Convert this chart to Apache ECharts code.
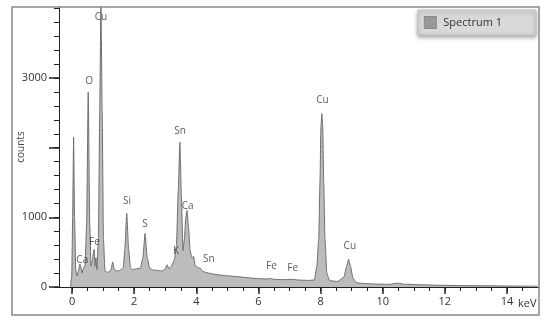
<!DOCTYPE html>
<html>
<head>
<meta charset="utf-8">
<script src="https://cdn.jsdelivr.net/npm/echarts@6/dist/echarts.min.js"></script>
<style>
  html, body { margin: 0; padding: 0; background: #fff; }
  #chart { width: 550px; height: 325px; }
</style>
</head>
<body>
<div id="chart"></div>
<script>
/* ---------- data ---------- */
const energy = [
  -0.05, -0.01, 0.02, 0.05, 0.08, 0.12, 0.16, 0.2, 0.25, 0.29, 0.32, 0.36, 0.42,
  0.47, 0.52, 0.57, 0.61, 0.65, 0.68, 0.71, 0.74, 0.77, 0.8, 0.85, 0.89, 0.93, 0.97,
  1.01, 1.06, 1.15, 1.25, 1.31, 1.36, 1.45, 1.55, 1.65, 1.7, 1.76, 1.82, 1.88, 1.95,
  2.05, 2.2, 2.28, 2.35, 2.42, 2.5, 2.6, 2.7, 2.8, 2.9, 2.98, 3.06, 3.12, 3.2, 3.3,
  3.36, 3.42, 3.47, 3.52, 3.57, 3.62, 3.66, 3.7, 3.75, 3.8, 3.86, 3.91, 3.96, 4.03,
  4.13, 4.2, 4.3, 4.4, 4.5, 4.7, 5.0, 5.3, 5.6, 6.0, 6.3, 6.4, 6.5, 6.8, 7.06, 7.3,
  7.6, 7.8, 7.88, 7.94, 7.98, 8.01, 8.04, 8.07, 8.1, 8.14, 8.2, 8.28, 8.4, 8.55,
  8.75, 8.84, 8.9, 8.96, 9.04, 9.15, 9.4, 9.8, 10.2, 10.5, 10.7, 11.2, 11.8, 12.5,
  13.2, 14.0, 14.6, 15.0
];
const counts = [
  0, 150, 1000, 2150, 1000, 250, 160, 220, 330, 280, 200, 260, 320,
  900, 2800, 900, 300, 380, 470, 540, 300, 420, 250, 700, 2500, 4100, 2500,
  700, 230, 210, 240, 360, 250, 230, 240, 280, 550, 1055, 550, 280, 250,
  260, 270, 420, 770, 420, 265, 245, 240, 235, 230, 250, 320, 260, 300, 400,
  600, 1400, 2080, 1300, 520, 700, 1000, 1100, 850, 520, 420, 440, 320, 280,
  270, 230, 210, 200, 190, 175, 160, 150, 135, 120, 115, 125, 110, 105, 110, 100,
  95, 100, 300, 700, 1500, 2300, 2490, 2300, 1500, 700, 200, 100, 85, 80,
  140, 300, 400, 300, 130, 60, 50, 42, 38, 55, 40, 32, 25, 20,
  18, 15, 12, 12
];

// peak annotations: element, label position (keV, counts)
const peakNames = ["Cu", "O", "Sn", "Si", "S", "Ca", "K", "Sn", "Fe", "Ca", "Fe", "Fe", "Cu", "Cu"];
const peakKeV   = [0.93, 0.55, 3.48, 1.77, 2.35, 3.72, 3.35, 4.4, 0.72, 0.33, 6.42, 7.1, 8.06, 8.94];
const peakY     = [3870, 2960, 2240, 1230, 900, 1160, 520, 400, 650, 390, 300, 270, 2680, 590];

const xMinorTicks = [];
for (let v = 0; v <= 14.5; v += 0.5) xMinorTicks.push(v);
const xMajorTicks = [0, 2, 4, 6, 8, 10, 12, 14];
const yMinorTicks = [];
for (let v = 0; v <= 4000; v += 200) yMinorTicks.push(v);
const yMajorTicks = [0, 1000, 2000, 3000];
const yLabelVals  = [0, 1000, 3000];

/* ---------- chart ---------- */
const chart = echarts.init(document.getElementById("chart"), null, { renderer: "canvas" });
const FONT = "Open Sans";
const X_MIN = -0.42, X_MAX = 15.03, Y_MAX = 4020;
const plain = (v) => String(v);

const xBase = {
  min: X_MIN, max: X_MAX, type: "value", position: "bottom",
  splitLine: { show: false },
  axisLine: { onZero: false, lineStyle: { color: "#222", width: 1 } },
};
const yBase = {
  type: "value", min: 0, max: Y_MAX, position: "left",
  splitLine: { show: false },
  axisLine: { show: true, onZero: false, lineStyle: { color: "#222" } },
};

chart.setOption({
  animation: false,
  grid: { left: 59, right: 11, top: 7, bottom: 38 },
  legend: {
    right: 14, top: 10,
    padding: [6, 34, 6, 6],
    itemWidth: 12, itemHeight: 12, itemGap: 4,
    icon: "rect",
    backgroundColor: "#d9d9d9",
    borderColor: "#c4c4c4", borderWidth: 1,
    shadowBlur: 4, shadowColor: "rgba(0,0,0,0.35)", shadowOffsetX: 0, shadowOffsetY: 2,
    textStyle: { fontFamily: FONT, fontSize: 11, color: "#333", padding: [0, 0, 0, 2] },
    data: [{ name: "Spectrum 1", itemStyle: { color: "#999", borderColor: "#888", borderWidth: 1 } }],
  },
  xAxis: [
    Object.assign({}, xBase, {
      axisTick: { length: 4, lineStyle: { color: "#222" }, customValues: xMinorTicks },
      axisLabel: { show: false },
    }),
    Object.assign({}, xBase, {
      axisTick: { length: 7, lineStyle: { color: "#222", width: 1.5 }, customValues: xMajorTicks },
      axisLabel: { customValues: xMajorTicks, formatter: plain, color: "#333", fontFamily: FONT, fontSize: 11, margin: 9 },
    }),
  ],
  yAxis: [
    Object.assign({}, yBase, {
      axisTick: { show: true, length: 5, lineStyle: { color: "#222" }, customValues: yMinorTicks },
      axisLabel: { show: false },
      name: "counts", nameLocation: "middle", nameGap: 33,
      nameTextStyle: { fontFamily: FONT, fontSize: 10, color: "#444" },
    }),
    Object.assign({}, yBase, {
      axisTick: { show: true, length: 10, lineStyle: { color: "#222", width: 1.5 }, customValues: yMajorTicks },
      axisLabel: { customValues: yLabelVals, formatter: plain, color: "#333", fontFamily: FONT, fontSize: 11, margin: 12 },
    }),
  ],
  series: [
    {
      name: "Spectrum 1",
      type: "line",
      data: energy.map((e, i) => [e, counts[i]]),
      showSymbol: false,
      smooth: 0.15,
      smoothMonotone: "x",
      clip: true,
      lineStyle: { color: "#6e6e6e", width: 1 },
      itemStyle: { color: "#999" },
      areaStyle: { color: "#bcbcbc", opacity: 1 },
      z: 2,
    },
    {
      type: "scatter",
      data: peakNames.map((n, i) => ({ value: [peakKeV[i], peakY[i]], name: n })),
      symbolSize: 0,
      silent: true,
      label: {
        show: true, position: "inside",
        formatter: (p) => p.name,
        fontFamily: FONT, fontSize: 10, color: "#333",
      },
      z: 5,
    },
  ],
  graphic: [
    {
      type: "rect", silent: true, z: 100,
      shape: { x: 12, y: 7, width: 527, height: 308 },
      style: { fill: null, stroke: "#8a8a8a", lineWidth: 1.5 },
    },
    {
      type: "text", left: 518, top: 298, z: 100,
      style: { text: "keV", fontFamily: FONT, fontSize: 11, fill: "#333" },
    },
  ],
});
</script>
</body>
</html>
